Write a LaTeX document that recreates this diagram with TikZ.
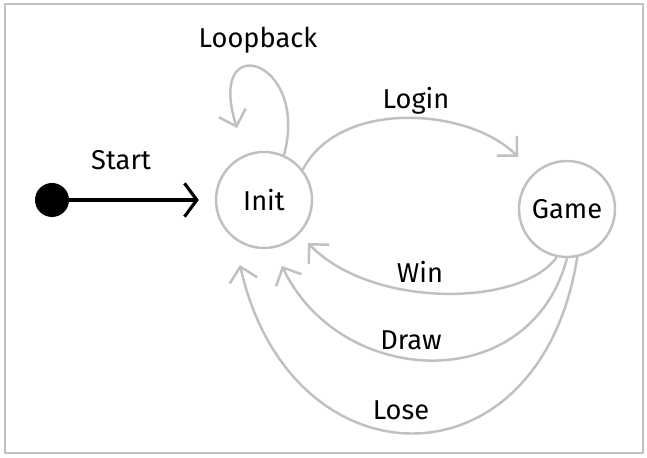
\documentclass[tikz,border=0pt]{standalone}
\usepackage{fontspec}
\setmainfont{Fira Sans}
\usetikzlibrary{arrows.meta}

\tikzset{
  state/.style={circle, draw=edgegray, line width=1.4pt, minimum size=1.92cm, inner sep=0pt, font=\fontsize{15.5}{18}\selectfont},
  trans/.style={draw=edgegray, line width=1.4pt, -{Straight Barb[length=8pt, width=16pt, line width=1.4pt]}},
  lbl/.style={font=\fontsize{15.5}{18}\selectfont}
}
\definecolor{edgegray}{RGB}{192,192,192}

\begin{document}
\begin{tikzpicture}
      \useasboundingbox (0, 0) rectangle (12.94, 9.16);
      \draw [edgegray, line width=1.1pt] (0.1, 0.1) rectangle (12.86, 9.08);

      % states
      \node [circle, fill=black, minimum size=0.68cm, inner sep=0pt] (start) at (1.04, 5.16) {};
      \node [state] (init) at (5.28, 5.16) {Init};
      \node [state] (game) at (11.34, 4.98) {Game};

      % free ends
      \coordinate (loopend) at (4.74, 6.60);
      \coordinate (loginend) at (10.36, 6.02);
      \coordinate (winend) at (6.16, 4.30);
      \coordinate (drawend) at (5.64, 3.84);
      \coordinate (loseend) at (4.80, 3.86);

      % start
      \draw [line width=1.8pt, shorten >=0.32cm, -{Straight Barb[length=7pt, width=19pt, line width=1.8pt]}] (start) -- (init);
        \node [lbl] (startlbl) at (2.42, 5.96) {Start};

      % loopback
      \draw [trans] (init.66) .. controls (6.2, 8.0) and (4.1, 8.6) .. (loopend);
        \node [lbl] (looplbl) at (5.16, 8.36) {Loopback};

      % login
      \draw [trans] (init.38) .. controls (6.8, 7.2) and (9.4, 7.0) .. (loginend);
        \node [lbl] (loginlbl) at (8.32, 7.14) {Login};

      % back to init
      \draw [trans] (game.258) .. controls (10.4, 3.0) and (7.4, 3.0) .. (winend);
        \node [lbl] (winlbl) at (8.40, 3.72) {Win};
      \draw [trans] (game.270) .. controls (10.6, 1.2) and (6.8, 1.4) .. (drawend);
        \node [lbl] (drawlbl) at (8.22, 2.36) {Draw};
      \draw [trans] (game.282) .. controls (10.8, -0.7) and (5.8, -0.6) .. (loseend);
        \node [lbl] (loselbl) at (8.02, 0.96) {Lose};

\end{tikzpicture}
\end{document}
